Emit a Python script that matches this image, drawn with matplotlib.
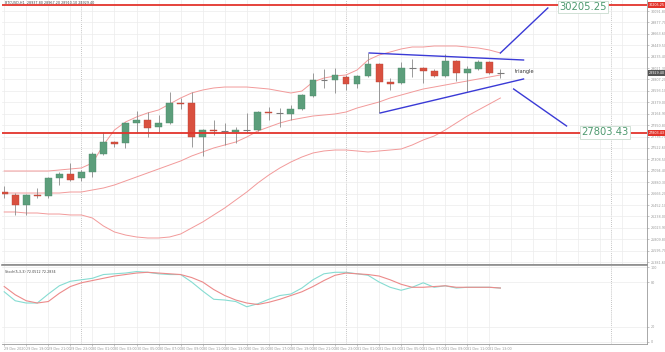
import matplotlib
matplotlib.use("Agg")
import matplotlib.pyplot as plt
import matplotlib.transforms as mtransforms
import numpy as np

# BTCUSD H1 candles, 29 Dec 17:00 .. 31 Dec 14:00
opens  = [26696, 26640, 26452, 26640, 26621, 26959, 27034, 26959, 27071, 27409,
          27634, 27616, 27991, 28047, 27916, 27991, 28366, 28366, 27728, 27859,
          27841, 27822, 27859, 27859, 28197, 28178, 28160, 28254, 28498, 28798,
          28798, 28854, 28723, 28873, 29098, 28760, 28742, 29023, 29023, 28967,
          28873, 29154, 28929, 29004, 29135, 28929]
highs  = [26809, 26677, 26658, 26771, 26978, 27071, 27240, 27109, 27447, 27822,
          27653, 28010, 28216, 28197, 28141, 28573, 28460, 28573, 27878, 28047,
          27991, 27916, 28178, 28216, 28291, 28272, 28329, 28535, 28929, 29004,
          29023, 28892, 28892, 29305, 29117, 28835, 29135, 29192, 29042, 29004,
          29286, 29173, 29060, 29173, 29154, 29004]
lows   = [26583, 26265, 26265, 26583, 26583, 26827, 26902, 26902, 26977, 27390,
          27541, 27522, 27803, 27728, 27803, 27972, 28254, 27541, 27371, 27766,
          27578, 27616, 27803, 27841, 28047, 27916, 28047, 28235, 28479, 28648,
          28554, 28610, 28648, 28854, 28179, 28610, 28723, 28854, 28742, 28854,
          28854, 28779, 28573, 28985, 28910, 28835]
closes = [26658, 26452, 26640, 26621, 26959, 27034, 26921, 27071, 27409, 27634,
          27597, 27991, 28047, 27897, 27991, 28366, 28347, 27728, 27859, 27841,
          27841, 27859, 27859, 28197, 28178, 28178, 28254, 28516, 28798, 28798,
          28892, 28723, 28873, 29098, 28760, 28723, 29023, 29023, 28967, 28873,
          29154, 28929, 29004, 29135, 28929, 28929]

# Bollinger bands
bb_upper = [27090, 27090, 27090, 27090, 27090, 27109, 27128, 27147, 27240, 27578,
            27860, 28010, 28104, 28179, 28235, 28347, 28460, 28554, 28610, 28648,
            28666, 28666, 28666, 28648, 28629, 28591, 28554, 28591, 28760, 28835,
            28873, 28892, 28985, 29173, 29267, 29323, 29380, 29417, 29417, 29436,
            29436, 29436, 29417, 29398, 29361, 29305]
bb_mid   = [26677, 26677, 26677, 26677, 26677, 26677, 26696, 26696, 26734, 26771,
            26828, 26903, 26978, 27053, 27128, 27203, 27278, 27372, 27447, 27522,
            27578, 27634, 27728, 27841, 27916, 27991, 28047, 28085, 28122, 28141,
            28160, 28197, 28272, 28329, 28385, 28460, 28516, 28573, 28629, 28666,
            28704, 28742, 28779, 28817, 28854, 28892]
bb_lower = [26321, 26321, 26302, 26302, 26283, 26283, 26265, 26265, 26208, 26058,
            25946, 25889, 25852, 25833, 25833, 25852, 25908, 26021, 26133, 26265,
            26396, 26546, 26696, 26865, 27015, 27147, 27259, 27353, 27428, 27466,
            27484, 27484, 27466, 27447, 27466, 27484, 27503, 27578, 27672, 27747,
            27860, 27991, 28122, 28235, 28347, 28460]

# Stochastic (5,3,3)
stoch_main = [67, 55, 52, 52, 64, 75, 81, 83, 85, 90, 91, 92, 94, 93, 91, 90, 90, 80,
              68, 57, 56, 54, 47, 51, 57, 62, 64, 72, 83, 91, 93, 93, 91, 89, 80, 73,
              69, 73, 79, 73, 75, 72, 73, 73, 73, 72]
stoch_signal = [74, 63, 55, 52, 54, 65, 74, 79, 82, 85, 88, 90, 92, 93, 92, 91, 90, 86,
                80, 70, 62, 56, 52, 50, 53, 57, 62, 67, 74, 82, 89, 92, 91, 90, 88, 83,
                77, 73, 73, 74, 75, 73, 73, 73, 73, 72]

resistance = 30205.25
support = 27803.43
last_price = 28929.40

# triangle drawing (candle index, price)
tri_upper = ([33.1, 47.1], [29305, 29173])
tri_lower = ([34.1, 47.1], [28179, 28817])
break_up = ([45.0, 49.3], [29305, 30149])
break_dn = ([46.2, 51.0], [28629, 27935])

price_ticks = [30091.80, 29877.70, 29663.60, 29449.50, 29235.40, 29021.30, 28807.20,
               28593.10, 28379.00, 28164.90, 27950.80, 27736.70, 27522.60, 27308.50,
               27094.40, 26880.30, 26666.20, 26452.10, 26238.00, 26023.90, 25809.80,
               25595.70, 25381.60]
x_labels = ["29 Dec 2020", "29 Dec 19:00", "29 Dec 21:00", "29 Dec 23:00",
            "30 Dec 01:00", "30 Dec 03:00", "30 Dec 05:00", "30 Dec 07:00",
            "30 Dec 09:00", "30 Dec 11:00", "30 Dec 13:00", "30 Dec 15:00",
            "30 Dec 17:00", "30 Dec 19:00", "30 Dec 21:00", "30 Dec 23:00",
            "31 Dec 01:00", "31 Dec 03:00", "31 Dec 05:00", "31 Dec 07:00",
            "31 Dec 09:00", "31 Dec 11:00", "31 Dec 13:00"]
day_breaks = [7, 31, 55]

GREEN = "#5c9e7b"
RED = "#d9503f"
BAND = "#f29a9a"
BLUE = "#3a3ad6"
AXC = "#9a9a9a"

fig = plt.figure(figsize=(6.65, 3.52), dpi=100)
ax = fig.add_axes([0.003, 0.25, 0.970, 0.75])
ax2 = fig.add_axes([0.003, 0.0227, 0.970, 0.2244])

n = len(opens)
x = np.arange(n)
o, h, l, c = map(np.array, (opens, highs, lows, closes))

for a in (ax, ax2):
    a.set_xlim(-0.2, 58.3)
    for s in ("top", "left"):
        a.spines[s].set_visible(False)
    for s in ("right", "bottom"):
        a.spines[s].set_color(AXC)
        a.spines[s].set_linewidth(0.6)
    a.yaxis.tick_right()
    a.tick_params(axis="both", length=1.5, width=0.4, colors=AXC, labelsize=2.4, pad=1)
    for d in day_breaks:
        a.axvline(d, color="#b0b0b0", lw=0.6, ls=(0, (1, 1.5)), zorder=1)
    a.set_xticks(np.arange(0, 58, 2))
    a.grid(True, color="#ececec", lw=0.5, zorder=0)

ax.set_ylim(25345, 30299)
ax.set_yticks(price_ticks)
ax.set_yticklabels(["%.2f" % v for v in price_ticks])
ax.set_xticklabels([])
ax.tick_params(axis="x", length=0)

# bands
ax.plot(x, bb_upper, color=BAND, lw=0.7, zorder=2)
ax.plot(x, bb_mid, color=BAND, lw=0.7, zorder=2)
ax.plot(x, bb_lower, color=BAND, lw=0.7, zorder=2)

# candles
ax.vlines(x, l, h, color="#8a8a8a", lw=0.6, zorder=3)
up = c > o
dn = c < o
flat = c == o
ax.bar(x[up], (c - o)[up], bottom=o[up], width=0.62, color=GREEN,
       edgecolor="#4d8a6a", lw=0.3, zorder=4)
ax.bar(x[dn], (o - c)[dn], bottom=c[dn], width=0.62, color=RED,
       edgecolor="#b8463a", lw=0.3, zorder=4)
ax.hlines(c[flat], x[flat] - 0.31, x[flat] + 0.31, color="#7a7a7a", lw=0.8, zorder=4)

# support / resistance
ax.axhline(resistance, color="#e3342c", lw=1.3, zorder=5)
ax.axhline(support, color="#e3342c", lw=1.3, zorder=5)
box = dict(boxstyle="square,pad=0.12", fc="white", ec="#c9dccf", lw=0.6)
ax.text(52.5, resistance - 40, "%.2f" % resistance, color="#4f9a70", fontsize=7.2,
        ha="center", va="center", bbox=box, zorder=6)
ax.text(54.5, support + 10, "%.2f" % support, color="#4f9a70", fontsize=7.2,
        ha="center", va="center", bbox=box, zorder=6)

# triangle pattern
for xs, ys in (tri_upper, tri_lower, break_up, break_dn):
    ax.plot(xs, ys, color=BLUE, lw=1.0, zorder=6)
ax.text(46.3, 28948, "triangle", fontsize=3.6, color="#333333", va="center", zorder=6)

# price labels on axis
trans = mtransforms.blended_transform_factory(ax.transAxes, ax.transData)
for val, col in ((resistance, "#e3342c"), (support, "#e3342c"), (last_price, "#555555")):
    ax.text(1.002, val, "%.2f" % val, transform=trans, fontsize=2.4, color="white",
            va="center", ha="left", clip_on=False, zorder=7,
            bbox=dict(boxstyle="square,pad=0.25", fc=col, ec="none"))

ax.text(0.004, 0.997, "BTCUSD,H1  28937.80 28967.20 28910.10 28929.40",
        transform=ax.transAxes, fontsize=2.4, color="#444444", va="top", ha="left")

# stochastic panel
ax2.set_ylim(-2.7, 102.7)
ax2.set_yticks([0, 20, 80, 100])
ax2.set_yticklabels(["0", "20", "80", "100"])
ax2.spines["top"].set_visible(True)
ax2.spines["top"].set_color("#8c8c8c")
ax2.spines["top"].set_linewidth(1.2)
ax2.plot(x, stoch_main, color="#86dcd2", lw=0.8, zorder=3)
ax2.plot(x, stoch_signal, color="#ec8a8a", lw=0.8, zorder=3)
ax2.text(0.004, 0.94, "Stoch(5,3,3) 72.0512 72.2834", transform=ax2.transAxes,
         fontsize=2.4, color="#444444", va="top", ha="left")

ticks = np.arange(0, 2 * len(x_labels), 2)
ax2.set_xticks(ticks)
ax2.set_xticklabels(x_labels, ha="left")
ax2.grid(True, color="#ececec", lw=0.5, zorder=0)

fig.savefig("out.png", dpi=100, facecolor="white")
